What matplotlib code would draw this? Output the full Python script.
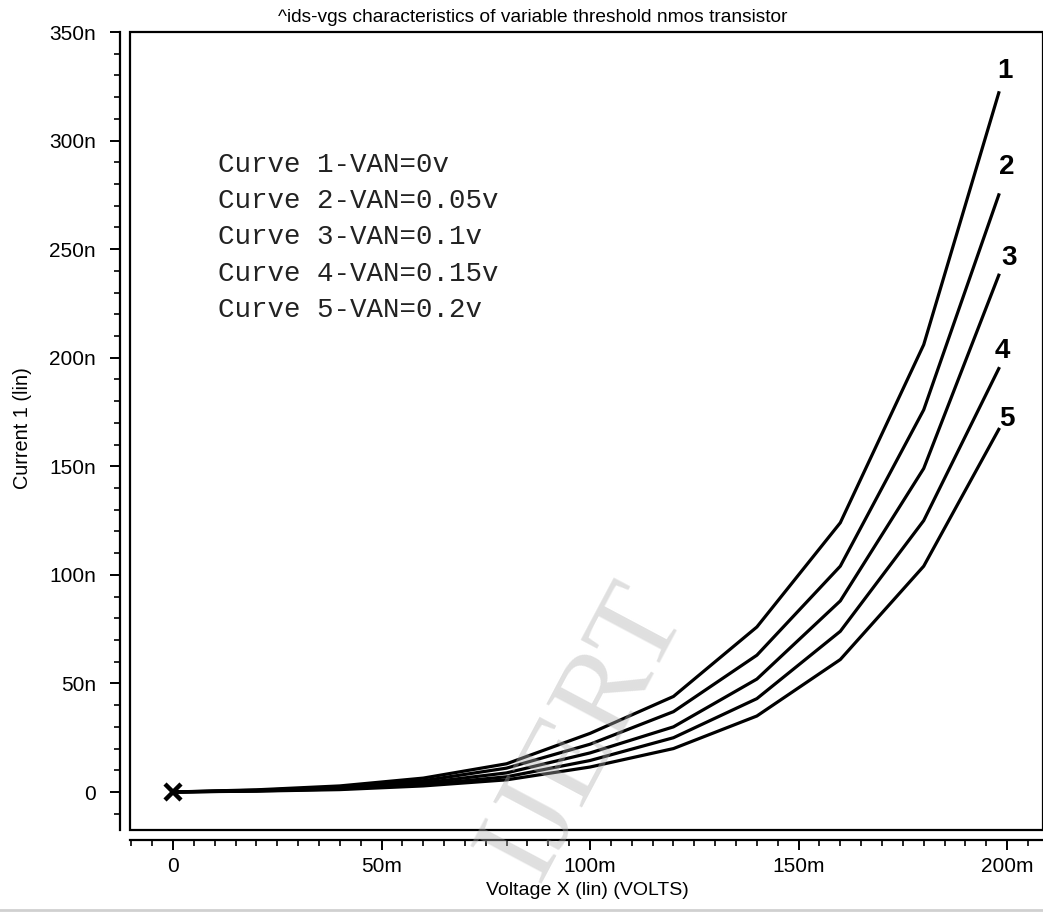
import matplotlib
matplotlib.use("Agg")
import matplotlib.pyplot as plt
from matplotlib.patches import Rectangle
from matplotlib.lines import Line2D
from matplotlib.ticker import MultipleLocator, FuncFormatter
from matplotlib import font_manager

# ---------------- data ----------------
voltage_mV = [0, 20, 40, 60, 80, 100, 120, 140, 160, 180, 198]
curve1_nA = [0, 1.0, 2.8, 6.4, 13.0, 27.0, 44.0, 76.0, 124.0, 206.0, 322.0]
curve2_nA = [0, 0.8, 2.2, 5.2, 11.0, 22.0, 37.0, 63.0, 104.0, 176.0, 275.0]
curve3_nA = [0, 0.6, 1.8, 4.2, 8.8, 18.0, 30.0, 52.0, 88.0, 149.0, 238.0]
curve4_nA = [0, 0.5, 1.4, 3.4, 7.0, 14.5, 25.0, 43.0, 74.0, 125.0, 195.0]
curve5_nA = [0, 0.4, 1.1, 2.8, 5.6, 11.5, 20.0, 35.0, 61.0, 104.0, 167.0]
curves = [curve1_nA, curve2_nA, curve3_nA, curve4_nA, curve5_nA]
curve_names = ["1", "2", "3", "4", "5"]
label_x_mV = [199.5, 199.8, 200.5, 198.8, 200.0]
label_y_nA = [332, 288, 246, 203, 172]
legend_lines = ["Curve 1-VAN=0v", "Curve 2-VAN=0.05v", "Curve 3-VAN=0.1v",
                "Curve 4-VAN=0.15v", "Curve 5-VAN=0.2v"]
title = "^ids-vgs characteristics of variable threshold nmos transistor"
xlabel = "Voltage X (lin) (VOLTS)"
ylabel = "Current 1 (lin)"

# ---------------- fonts ----------------
names = {f.name for f in font_manager.fontManager.ttflist}
sans = "Liberation Sans Narrow" if "Liberation Sans Narrow" in names else "Liberation Sans"
tsz = 15

W, H = 1043, 913
fig = plt.figure(figsize=(W / 100, H / 100), dpi=100)
fig.patch.set_facecolor("white")

def fx(px):
    return px / W

def fy(py):
    return 1 - py / H

left, right, top, bottom = 130, 1043, 32, 830
ax = fig.add_axes([fx(left), fy(bottom), fx(right - left), (bottom - top) / H])

for c in curves:
    ax.plot(voltage_mV, c, color="black", lw=2.3, solid_joinstyle="miter", zorder=3)

ax.plot([voltage_mV[0]], [curve1_nA[0]], marker="x", color="black", ms=12, mew=3.2, zorder=4)

for name, lx, ly in zip(curve_names, label_x_mV, label_y_nA):
    ax.text(lx, ly, name, fontsize=20, fontweight="bold", family=[sans, "DejaVu Sans"],
            ha="center", va="center", color="black")

ax.set_xlim(-10.3, 208.6)
ax.set_ylim(-17.5, 350)

# frame box
ax.add_patch(Rectangle((0, 0), 1, 1, transform=ax.transAxes, fill=False,
                       lw=1.6, edgecolor="black", clip_on=False, zorder=5))

for s in ["top", "right"]:
    ax.spines[s].set_visible(False)
ax.spines["left"].set_position(("outward", 7))
ax.spines["bottom"].set_position(("outward", 7))
ax.spines["left"].set_linewidth(1.6)
ax.spines["bottom"].set_linewidth(1.6)

ax.xaxis.set_major_locator(MultipleLocator(50))
ax.xaxis.set_minor_locator(MultipleLocator(5))
ax.yaxis.set_major_locator(MultipleLocator(50))
ax.yaxis.set_minor_locator(MultipleLocator(10))
ax.xaxis.set_major_formatter(FuncFormatter(lambda v, p: "0" if abs(v) < 1e-9 else f"{int(round(v))}m"))
ax.yaxis.set_major_formatter(FuncFormatter(lambda v, p: "0" if abs(v) < 1e-9 else f"{int(round(v))}n"))
ax.tick_params(which="major", length=7.5, width=1.4, direction="out", labelsize=tsz)
ax.tick_params(axis="y", which="major", pad=10)
ax.tick_params(axis="x", which="major", pad=5)
ax.tick_params(which="minor", length=4, width=1.2, direction="out")
for lab in ax.get_xticklabels() + ax.get_yticklabels():
    lab.set_family(sans)

# legend text block
for i, line in enumerate(legend_lines):
    fig.text(fx(218), fy(165 + 36.2 * i), line, family="Liberation Mono", fontsize=19.8,
             ha="left", va="center", color="#222222")

fig.text(fx(533), fy(17), title, family=sans, fontsize=13.8, ha="center", va="center")
fig.text(fx(587), fy(890), xlabel, family=sans, fontsize=14, ha="center", va="center")
fig.text(fx(23), fy(428), ylabel, family=sans, fontsize=14.3, ha="center", va="center",
         rotation=90)

# watermark
fig.text(fx(585), fy(732), "IJERT", family="Liberation Serif", fontsize=88,
         color="#b0b0b0", alpha=0.4, rotation=62, ha="center", va="center", zorder=10)

# bottom window border
fig.add_artist(Line2D([0, 1], [fy(910), fy(910)], color="#d0d0d0", lw=2))

fig.savefig("out.png", dpi=100, facecolor="white")
